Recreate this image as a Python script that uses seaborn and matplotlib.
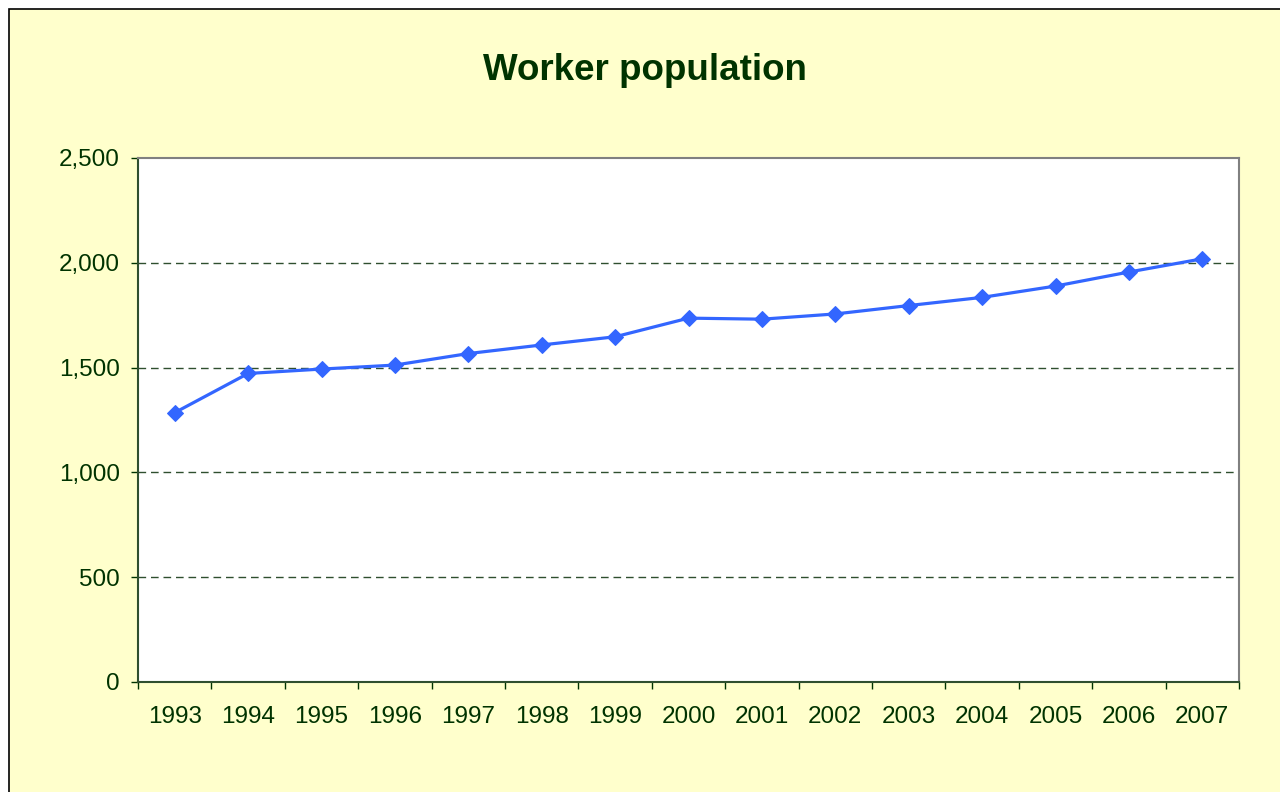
import matplotlib.pyplot as plt
import matplotlib.patches as patches
import matplotlib.ticker as ticker
import seaborn as sns
import pandas as pd

# data
years = ["1993", "1994", "1995", "1996", "1997", "1998", "1999", "2000",
         "2001", "2002", "2003", "2004", "2005", "2006", "2007"]
workers = [1285, 1472, 1493, 1512, 1567, 1608, 1647, 1736,
           1731, 1756, 1796, 1835, 1889, 1956, 2019]

y_ticks = [0, 500, 1000, 1500, 2000, 2500]

df = pd.DataFrame({"year": years, "workers": workers})

# colours
bg_yellow = "#FFFFCC"
dark_green = "#003300"
line_blue = "#3366FF"

sns.set_style("white")
plt.rcParams['font.family'] = ['Liberation Sans', 'DejaVu Sans']

fig = plt.figure(figsize=(12.8, 7.92), dpi=100)
fig.patch.set_facecolor("white")

# chart area with black border (only left / top edge visible)
frame = patches.Rectangle((9 / 1280, -0.1), 1.2, (792 - 9) / 792 + 0.1,
                          transform=fig.transFigure, facecolor=bg_yellow,
                          edgecolor="black", linewidth=1.2, zorder=-10)
fig.patches.append(frame)

ax = fig.add_axes([138 / 1280, 110 / 792, 1101 / 1280, 524 / 792])
ax.set_facecolor("white")

sns.lineplot(data=df, x="year", y="workers", ax=ax, color=line_blue,
             linewidth=2.3, marker="D", markersize=8.5,
             markeredgecolor=line_blue, sort=False)

# axes limits
ax.set_xlim(-0.5, len(years) - 0.5)
ax.set_ylim(0, 2500)

# y axis
ax.set_yticks(y_ticks)
ax.yaxis.set_major_formatter(ticker.FuncFormatter(lambda v, p: f"{int(v):,}"))
ax.tick_params(axis="y", which="major", length=5, width=1, color=dark_green,
               labelsize=17.5, labelcolor=dark_green, pad=8, left=True)

# x axis: ticks between categories, labels centred
ax.xaxis.set_major_locator(ticker.FixedLocator([i - 0.5 for i in range(len(years) + 1)]))
ax.xaxis.set_major_formatter(ticker.NullFormatter())
ax.xaxis.set_minor_locator(ticker.FixedLocator(range(len(years))))
ax.xaxis.set_minor_formatter(ticker.FixedFormatter(years))
ax.tick_params(axis="x", which="major", length=5, width=1, color=dark_green,
               direction="out", bottom=True)
ax.tick_params(axis="x", which="minor", length=0, labelsize=17.5,
               labelcolor=dark_green, pad=17)

# grid lines
for v in y_ticks[1:-1]:
    ax.axhline(v, color="#2F4F2F", linewidth=1, linestyle=(0, (5.5, 3.5)), zorder=0)

# spines
ax.spines["left"].set_color("#2F4F2F")
ax.spines["bottom"].set_color("#2F4F2F")
ax.spines["top"].set_color("#808080")
ax.spines["right"].set_color("#808080")
for s in ax.spines.values():
    s.set_visible(True)
    s.set_linewidth(1.5)

ax.set_xlabel("")
ax.set_ylabel("")

fig.text(644.5 / 1280, 1 - 70 / 792, "Worker population", ha="center", va="center",
         fontsize=26.5, fontweight="bold", color=dark_green)

fig.savefig("out.png", dpi=100, facecolor=fig.get_facecolor())
